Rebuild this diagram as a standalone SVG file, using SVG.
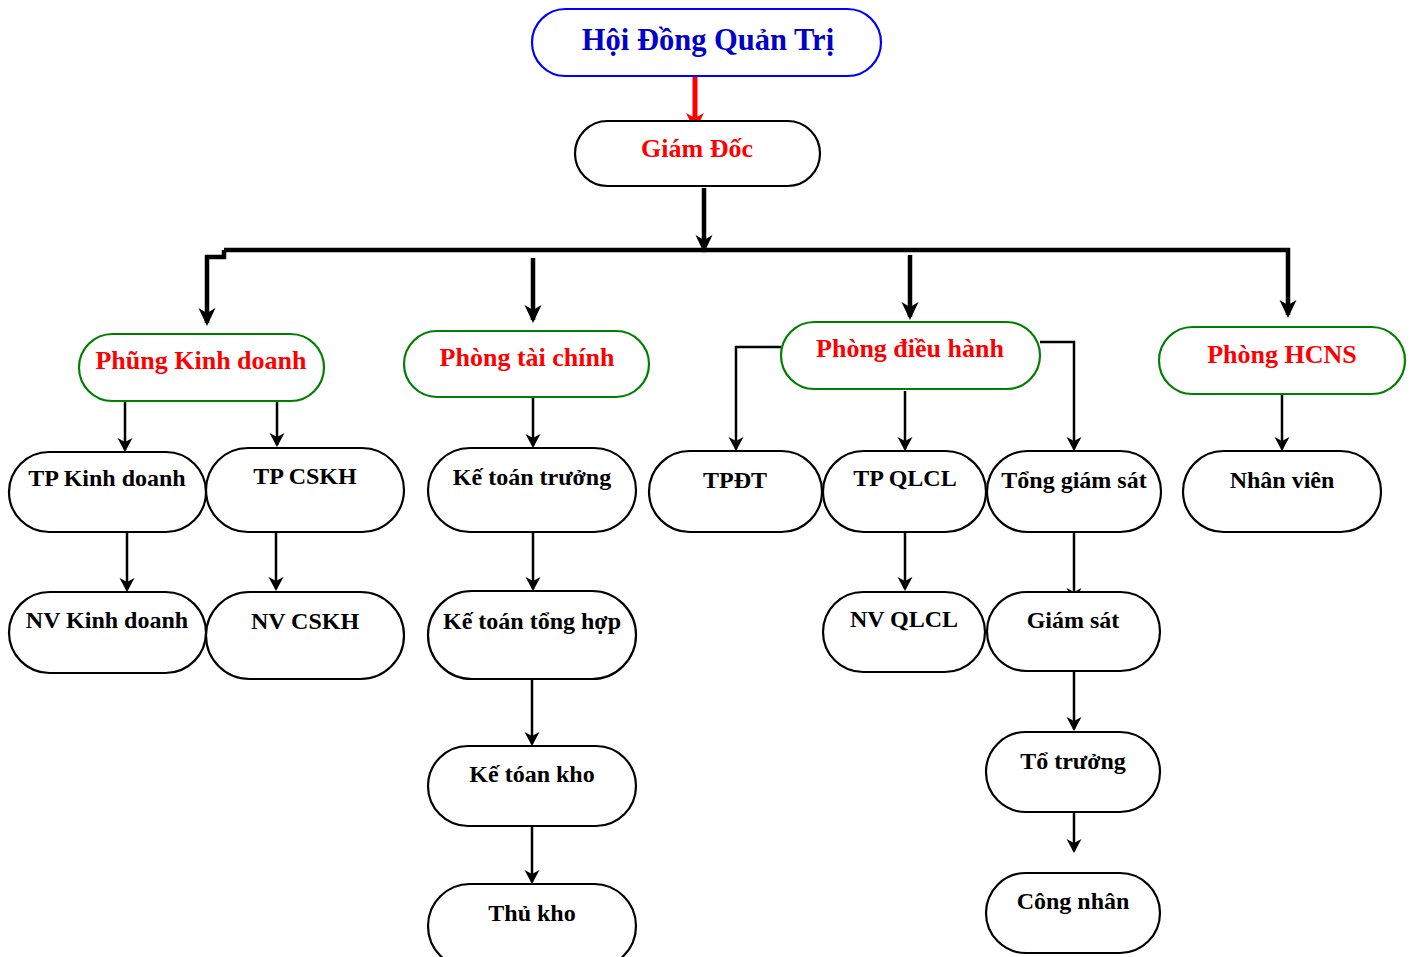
<svg xmlns="http://www.w3.org/2000/svg" width="1413" height="957" viewBox="0 0 1413 957">
<style>
.n rect{fill:#fff;stroke:#000;stroke-width:2.2}
.g rect{stroke:#008000}
.b rect{stroke:#0000ff}
text{font-family:"Liberation Serif","Times New Roman",serif;font-weight:bold;text-anchor:middle}
.t3{font-size:24px;fill:#000}
.t2{font-size:26px;fill:#ff0000}
.thick{fill:none;stroke:#000;stroke-width:4.5;marker-end:url(#ahB)}
.thin{fill:none;stroke:#000;stroke-width:2.5;marker-end:url(#ahS)}
</style>
<defs>
<marker id="ahB" viewBox="-16 -9 20 18" refX="0" refY="0" markerWidth="20" markerHeight="18" markerUnits="userSpaceOnUse" orient="auto"><path d="M3,0 L-15,-8.5 L-10,0 L-15,8.5 Z" fill="#000"/></marker>
<marker id="ahS" viewBox="-14 -8 17 16" refX="0" refY="0" markerWidth="17" markerHeight="16" markerUnits="userSpaceOnUse" orient="auto"><path d="M2,0 L-12,-7.5 L-8,0 L-12,7.5 Z" fill="#000"/></marker>
<marker id="ahR" viewBox="-16 -10 20 20" refX="0" refY="0" markerWidth="20" markerHeight="20" markerUnits="userSpaceOnUse" orient="auto"><path d="M3,0 L-15,-9 L-10,0 L-15,9 Z" fill="#ff0000"/></marker>
</defs>

<g id="connectors">
<path d="M695,77 V128" fill="none" stroke="#ff0000" stroke-width="5" marker-end="url(#ahR)"/>
<path class="thick" d="M704,188 V250"/>
<path class="thick" d="M224,250 H1288 V315"/>
<path class="thick" d="M224,250 V257 H207 V323"/>
<path class="thick" d="M533,258 V320"/>
<path class="thick" d="M910,255 V317"/>
<path class="thin" d="M125,402 V450"/>
<path class="thin" d="M277,402 V445"/>
<path class="thin" d="M127,533 V590"/>
<path class="thin" d="M276,533 V589"/>
<path class="thin" d="M533,398 V446"/>
<path class="thin" d="M533,533 V589"/>
<path class="thin" d="M532,680 V744"/>
<path class="thin" d="M532,827 V882"/>
<path class="thin" d="M781,347 H736 V449"/>
<path class="thin" d="M905,391 V449"/>
<path class="thin" d="M1040,342 H1074 V449"/>
<path class="thin" d="M905,533 V589"/>
<path class="thin" d="M1074,533 V600"/>
<path class="thin" d="M1074,672 V729"/>
<path class="thin" d="M1074,813 V851"/>
<path class="thin" d="M1282,395 V449"/>
</g>

<g id="hdqt" class="n b"><rect x="532" y="9" width="349" height="67" rx="33.5"/><text x="708" y="50" style="font-size:30.5px;fill:#0000cc">Hội Đồng Quản Trị</text></g>
<g id="giamdoc" class="n"><rect x="575" y="121" width="245" height="65" rx="32.5"/><text class="t2" x="697" y="157">Giám Đốc</text></g>

<g id="kinhdoanh" class="n g"><rect x="79" y="334" width="245" height="67" rx="33.5"/><text class="t2" x="201" y="369">Phũng Kinh doanh</text></g>
<g id="taichinh" class="n g"><rect x="404" y="331" width="245" height="66" rx="33"/><text class="t2" x="527" y="366">Phòng tài chính</text></g>
<g id="dieuhanh" class="n g"><rect x="781" y="322" width="259" height="67" rx="33.5"/><text class="t2" x="910" y="357">Phòng điều hành</text></g>
<g id="hcns" class="n g"><rect x="1159" y="327" width="246" height="67" rx="33.5"/><text class="t2" x="1282" y="363">Phòng HCNS</text></g>

<g id="tpkd" class="n"><rect x="9" y="452" width="197" height="80" rx="40"/><text class="t3" x="107" y="486">TP Kinh doanh</text></g>
<g id="tpcskh" class="n"><rect x="206" y="448" width="198" height="84" rx="42"/><text class="t3" x="305" y="484">TP CSKH</text></g>
<g id="nvkd" class="n"><rect x="9" y="592" width="197" height="81" rx="40.5"/><text class="t3" x="107" y="628">NV Kinh doanh</text></g>
<g id="nvcskh" class="n"><rect x="206" y="592" width="198" height="87" rx="43.5"/><text class="t3" x="305" y="629">NV CSKH</text></g>

<g id="ktt" class="n"><rect x="428" y="448" width="208" height="84" rx="42"/><text class="t3" x="532" y="485">Kế toán trưởng</text></g>
<g id="ktth" class="n"><rect x="428" y="591" width="208" height="88" rx="44"/><text class="t3" x="532" y="629">Kế toán tổng hợp</text></g>
<g id="ktk" class="n"><rect x="428" y="746" width="208" height="80" rx="40"/><text class="t3" x="532" y="782">Kế tóan kho</text></g>
<g id="thukho" class="n"><rect x="428" y="884" width="208" height="84" rx="42"/><text class="t3" x="532" y="921">Thủ kho</text></g>

<g id="tpdt" class="n"><rect x="649" y="451" width="173" height="81" rx="40.5"/><text class="t3" x="735" y="488">TPĐT</text></g>
<g id="tpqlcl" class="n"><rect x="823" y="451" width="163" height="81" rx="40.5"/><text class="t3" x="905" y="486">TP QLCL</text></g>
<g id="tonggiamsat" class="n"><rect x="987" y="451" width="174" height="81" rx="40.5"/><text class="t3" x="1074" y="488">Tổng giám sát</text></g>
<g id="nhanvien" class="n"><rect x="1183" y="451" width="198" height="81" rx="40.5"/><text class="t3" x="1282" y="488">Nhân viên</text></g>

<g id="nvqlcl" class="n"><rect x="823" y="592" width="162" height="80" rx="40"/><text class="t3" x="904" y="627">NV QLCL</text></g>
<g id="giamsat" class="n"><rect x="987" y="592" width="173" height="79" rx="39.5"/><text class="t3" x="1073" y="628">Giám sát</text></g>
<g id="totruong" class="n"><rect x="986" y="732" width="174" height="80" rx="40"/><text class="t3" x="1073" y="769">Tổ trưởng</text></g>
<g id="congnhan" class="n"><rect x="986" y="873" width="174" height="80" rx="40"/><text class="t3" x="1073" y="909">Công nhân</text></g>
</svg>
